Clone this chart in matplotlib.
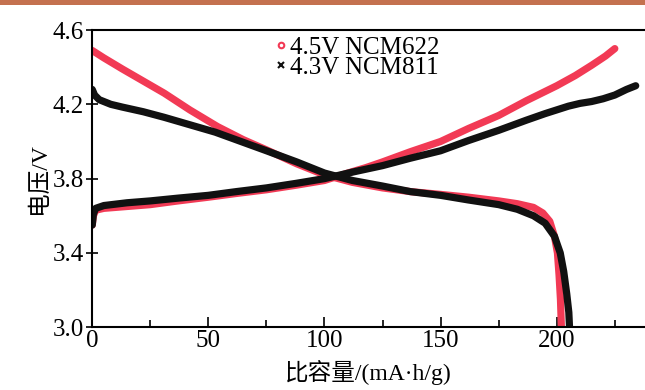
import matplotlib.pyplot as plt
from matplotlib.patches import Rectangle
from matplotlib.ticker import MultipleLocator

# NCM622 charged to 4.5 V
ncm622_chg_x = [0, 0.5, 1.5, 5, 15, 25, 37, 50, 62, 75, 88, 100, 110, 118, 125, 137,
                150, 162, 175, 187, 200, 208, 215, 221, 225]
ncm622_chg_y = [3.55, 3.60, 3.63, 3.64, 3.65, 3.66, 3.68, 3.70, 3.72, 3.74, 3.765, 3.79,
                3.83, 3.86, 3.89, 3.945, 4.00, 4.07, 4.14, 4.22, 4.30, 4.355, 4.41, 4.46, 4.50]
ncm622_dis_x = [0, 5, 13, 22, 31, 42, 54, 65, 75, 88, 100, 112, 125, 137, 150, 162, 175,
                183, 190, 194, 197, 199, 200.3, 201, 201.6, 202]
ncm622_dis_y = [4.49, 4.45, 4.39, 4.325, 4.26, 4.17, 4.08, 4.01, 3.955, 3.88, 3.82, 3.78,
                3.75, 3.73, 3.715, 3.70, 3.68, 3.665, 3.645, 3.615, 3.57, 3.49, 3.40, 3.28,
                3.15, 3.00]

# NCM811 charged to 4.3 V
ncm811_chg_x = [0, 0.5, 1.5, 5, 15, 25, 37, 50, 62, 75, 88, 100, 112, 125, 137, 150, 162,
                175, 187, 195, 200, 205, 210, 215, 220, 225, 230, 234]
ncm811_chg_y = [3.55, 3.61, 3.64, 3.655, 3.67, 3.68, 3.695, 3.71, 3.73, 3.75, 3.775, 3.80,
                3.835, 3.87, 3.91, 3.95, 4.005, 4.06, 4.115, 4.15, 4.17, 4.19, 4.205,
                4.215, 4.23, 4.25, 4.28, 4.30]
ncm811_dis_x = [0, 1, 3, 8, 13, 22, 31, 42, 53, 64, 75, 88, 100, 112, 125, 137, 150, 162,
                175, 183, 190, 195, 199, 201.5, 203, 204.3, 205.2, 205.5]
ncm811_dis_y = [4.28, 4.25, 4.225, 4.20, 4.185, 4.16, 4.13, 4.09, 4.05, 4.00, 3.95, 3.89,
                3.83, 3.79, 3.76, 3.73, 3.71, 3.685, 3.66, 3.635, 3.60, 3.56, 3.49, 3.40,
                3.30, 3.18, 3.08, 3.00]

labels = ['4.5V NCM622', '4.3V NCM811']
y_ticks = [3.0, 3.4, 3.8, 4.2, 4.6]
red = '#f23a55'
black = '#111111'

plt.rcParams['font.family'] = ['Liberation Serif', 'Noto Sans CJK SC']

fig = plt.figure(figsize=(6.45, 3.9), dpi=100)
fig.add_artist(Rectangle((0, 0.988), 1, 0.012, transform=fig.transFigure,
                         color='#c4714f', lw=0))
ax = fig.add_axes([0.143, 0.161, 0.857, 0.762])

lw = 5.2
ax.plot(ncm622_chg_x, ncm622_chg_y, color=red, lw=lw, solid_capstyle='round')
ax.plot(ncm622_dis_x, ncm622_dis_y, color=red, lw=lw, solid_capstyle='round')
ax.plot(ncm811_dis_x, ncm811_dis_y, color=black, lw=lw, solid_capstyle='round')
ax.plot(ncm811_chg_x, ncm811_chg_y, color=black, lw=lw, solid_capstyle='round')

# legend handles
ax.plot([], [], ls='none', marker='o', mfc='none', mec=red, mew=1.5, ms=4, label=labels[0])
ax.plot([], [], ls='none', marker='x', color=black, mew=1.5, ms=4, label=labels[1])
ax.legend(loc='upper center', bbox_to_anchor=(0.48, 1.03), frameon=False,
          fontsize=18, handlelength=0.4, handletextpad=0.15, labelspacing=-0.1,
          borderaxespad=0.2)

ax.set_xlim(0, 238)
ax.set_ylim(3.0, 4.6)
ax.set_yticks(y_ticks)
ax.xaxis.set_major_locator(MultipleLocator(50))
ax.xaxis.set_minor_locator(MultipleLocator(25))
ax.yaxis.set_major_formatter(plt.FormatStrFormatter('%.1f'))
ax.tick_params(axis='x', direction='in', length=7, width=1.2, labelsize=18, pad=2)
ax.tick_params(axis='x', which='minor', direction='in', length=5, width=1.2)
ax.tick_params(axis='y', direction='inout', length=8, width=1.2, labelsize=18, pad=2)
ax.spines['right'].set_visible(False)
for s in ['left', 'bottom', 'top']:
    ax.spines[s].set_linewidth(1.5)

ax.set_xlabel('比容量/(mA·h/g)', fontsize=17, labelpad=6)
ax.set_ylabel('电压/V', fontsize=17, labelpad=2)

fig.savefig('out.png', dpi=100)
